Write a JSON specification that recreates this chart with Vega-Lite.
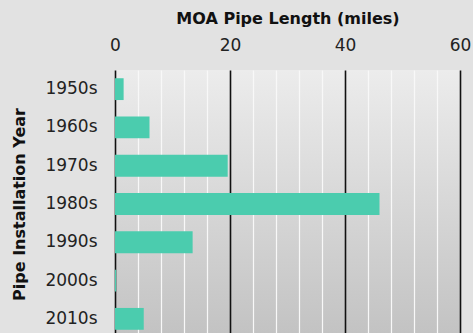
{
  "$schema": "https://vega.github.io/schema/vega-lite/v6.json",
  "autosize": {"type": "none"},
  "width": 345,
  "height": 268,
  "padding": {"left": 115, "top": 70, "right": 13, "bottom": 0},
  "background": "#e2e2e2",
  "config": {
    "view": {
      "stroke": null,
      "fill": {"gradient": "linear", "x1": 0, "y1": 0, "x2": 0, "y2": 1,
        "stops": [{"offset": 0, "color": "#ececec"}, {"offset": 1, "color": "#c2c2c2"}]}
    },
    "font": "DejaVu Sans"
  },
  "data": {
    "values": [
      {"decade": "1950s", "miles": 1.5},
      {"decade": "1960s", "miles": 6.0},
      {"decade": "1970s", "miles": 19.6},
      {"decade": "1980s", "miles": 46.0},
      {"decade": "1990s", "miles": 13.5},
      {"decade": "2000s", "miles": 0.2},
      {"decade": "2010s", "miles": 5.0}
    ]
  },
  "mark": {"type": "bar", "color": "#4bccae"},
  "encoding": {
    "y": {
      "field": "decade", "type": "nominal", "sort": null,
      "scale": {"paddingInner": 0.43, "paddingOuter": 0.215},
      "axis": {
        "title": "Pipe Installation Year",
        "titleFontSize": 16, "titleFontWeight": "bold", "titleColor": "#111",
        "titlePadding": 17,
        "labelFontSize": 17, "labelColor": "#222", "labelPadding": 18,
        "domain": false, "ticks": false, "grid": false
      }
    },
    "x": {
      "field": "miles", "type": "quantitative",
      "scale": {"domain": [0, 60], "nice": false},
      "axis": {
        "orient": "top",
        "title": "MOA Pipe Length (miles)",
        "titleFontSize": 16, "titleFontWeight": "bold", "titleColor": "#111",
        "titlePadding": 10,
        "values": [0, 4, 8, 12, 16, 20, 24, 28, 32, 36, 40, 44, 48, 52, 56, 60],
        "labelExpr": "datum.value % 20 === 0 ? datum.label : ''",
        "labelFontSize": 17, "labelColor": "#222", "labelPadding": 16,
        "labelFlush": false,
        "domain": false, "ticks": false,
        "grid": true,
        "gridColor": {"condition": {"test": "datum.value % 20 === 0", "value": "#111"}, "value": "#f8f8f8"},
        "gridWidth": {"condition": {"test": "datum.value % 20 === 0", "value": 1.6}, "value": 1.2},
        "gridOpacity": 1
      }
    }
  }
}
